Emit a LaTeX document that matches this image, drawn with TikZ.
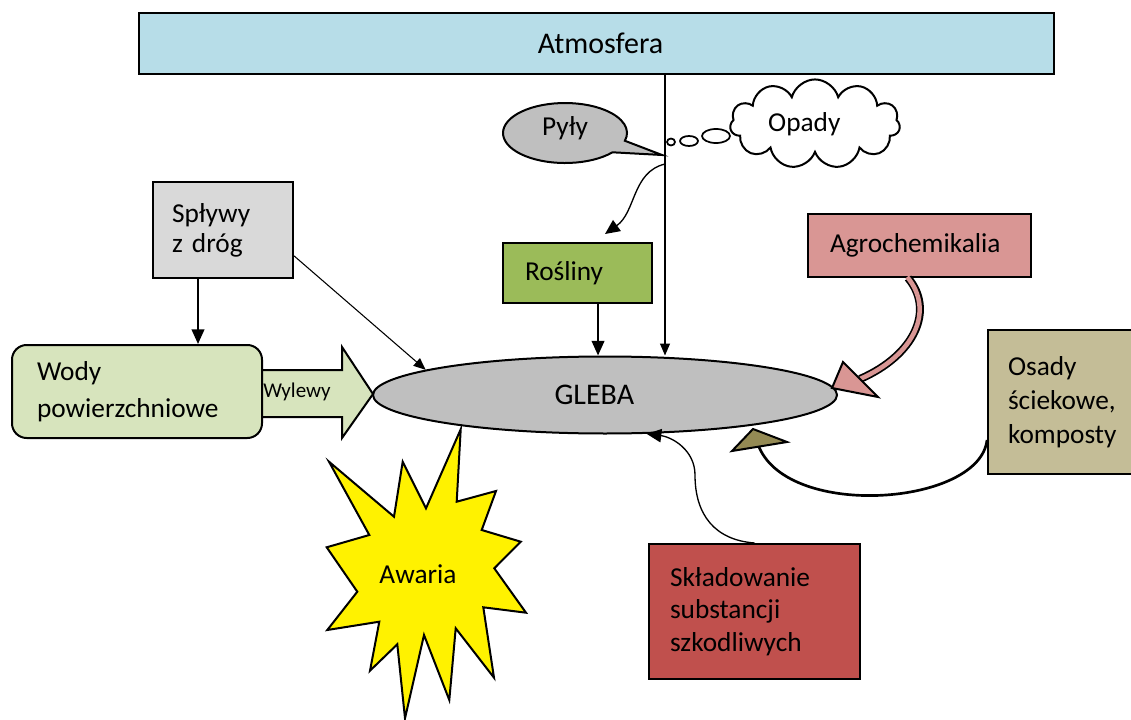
\documentclass[tikz,border=0pt]{standalone}
\usepackage{fontspec}
\setmainfont{Carlito}
\usetikzlibrary{shapes.geometric,shapes.symbols,arrows.meta}
\definecolor{atmblue}{HTML}{B7DDE8}
\definecolor{splgray}{HTML}{D9D9D9}
\definecolor{wodygreen}{HTML}{D7E4BD}
\definecolor{roslgreen}{HTML}{9BBB59}
\definecolor{agropink}{HTML}{D99694}
\definecolor{osadytan}{HTML}{C4BD97}
\definecolor{skladred}{HTML}{C0504D}
\definecolor{soilgray}{HTML}{BFBFBF}
\definecolor{olivehead}{HTML}{948A54}
\begin{document}
\begin{tikzpicture}[x=0.75pt,y=-0.75pt,
  txt/.style={font=\fontsize{20.5}{22.5}\selectfont},
  bigtxt/.style={font=\fontsize{22.5}{24}\selectfont},
  box/.style={draw=black, line width=1.5pt, align=left, inner ysep=0pt, txt},
  lbl/.style={txt, inner sep=0pt},
  thinarrow/.style={line width=0.8pt, -{Triangle[length=9pt,width=7.5pt]}},
  thickarrow/.style={line width=1.5pt, -{Triangle[length=11pt,width=9.5pt]}},
  curvarrow/.style={line width=1pt, -{Triangle[length=11pt,width=10pt]}},
]
\useasboundingbox (0,0) rectangle (1131,720);

% Atmosfera
\node[box, fill=atmblue, minimum width=686.25pt, minimum height=45.75pt, inner sep=0pt, align=center, bigtxt] (atm) at (596.5,43.5) {\hspace*{6pt}Atmosfera};

% GLEBA
\node[ellipse, draw=black, line width=1.5pt, fill=soilgray, minimum width=348pt, minimum height=57.75pt, inner sep=0pt, bigtxt] (gleba) at (605,395) {GLEBA\kern16pt};

% Star
\draw[line width=1.5pt, fill=yellow, line join=miter]
 (460.7,429.3) -- (456.7,501.7) -- (496,491) -- (481.7,530) -- (520.7,541.7) -- (494.3,568.3) -- (526,612.7) -- (483.3,607.3) -- (494,677.7) -- (455.7,628.3) -- (449.3,700) -- (424,635) -- (405,718.3) -- (397.3,644.3) -- (370,670.7) -- (379.3,621.7) -- (327.3,630) -- (357.3,591.7) -- (326.7,547.3) -- (369.3,535) -- (329,461.7) -- (394,516.7) -- (402.7,461.7) -- (426,508.3) -- cycle;
\node[lbl] (awaria) at (418,574) {Awaria};

% Wylewy block arrow
\fill[wodygreen] (262,370) -- (342,370) -- (342,347) -- (373,394) -- (342,438) -- (342,417) -- (262,417) -- cycle;
\draw[line width=1.5pt, line join=miter] (262,370) -- (342,370) -- (342,347) -- (373,394) -- (342,438) -- (342,417) -- (262,417);
\node[font=\fontsize{15.75}{18}\selectfont, inner sep=0pt] (wylewy) at (297,392) {Wylewy};

% boxes
\node[box, fill=splgray, text width=76.5pt, inner xsep=14.25pt, minimum height=72pt] (spl) at (223,230) {Spływy\\z dróg};
\node[box, fill=wodygreen, rounded corners=11pt, text width=150pt, inner xsep=18.75pt, minimum height=69.75pt] (wody) at (137,391.5) {Wody\\[5pt]powierzchniowe};
\node[box, fill=roslgreen, text width=78.75pt, inner xsep=16.5pt, minimum height=45pt] (rosl) at (577.5,273) {Rośliny};
\node[box, fill=agropink, text width=134.25pt, inner xsep=16.5pt, minimum height=47.25pt] (agro) at (919.5,245.5) {Agrochemikalia};
\node[box, fill=osadytan, text width=91.5pt, inner xsep=15pt, minimum height=108pt] (osady) at (1069,402) {Osady\\[3pt]ściekowe,\\[3pt]komposty};
\node[box, fill=skladred, text width=126.75pt, inner xsep=15.75pt, minimum height=101.25pt] (sklad) at (754.5,611.5) {Składowanie\\[2pt]substancji\\[2pt]szkodliwych};

% Pyły speech bubble
\draw[line width=1.5pt, fill=soilgray, line join=miter] (612.5,152.3) arc[start angle=40, end angle=375, x radius=62, y radius=30] -- (662,155) -- cycle;
\node[lbl] (pyly) at (565,128) {Pyły};

% Opady thought cloud
\node[cloud, draw=black, line width=1.5pt, fill=white, cloud puffs=11, aspect=2.1, minimum width=127.5pt, minimum height=63pt, inner sep=0pt, txt] (opady) at (815,124) {Opady\kern16pt};
\draw[line width=1.3pt] (671,142) ellipse [x radius=4, y radius=3.5];
\draw[line width=1.3pt] (689,141) ellipse [x radius=9, y radius=5];
\draw[line width=1.3pt] (716,136) ellipse [x radius=14, y radius=7];

% connectors
\coordinate (drop) at (665,164);
\coordinate (rtip) at (605,234);
\draw[thinarrow] (atm.south -| drop) -- (gleba.north -| drop);
\draw[curvarrow] (drop) .. controls (632,172) and (636,212) .. (rtip);
\draw[thickarrow] ([xshift=15.4pt]rosl.south) -- ([xshift=15.4pt]rosl.south |- gleba.north);
\draw[thickarrow] ([xshift=-18.75pt]spl.south) -- ([xshift=-18.75pt]spl.south |- wody.north);
\draw[thinarrow] (spl.-20) -- (gleba.172);
\draw[curvarrow] (sklad.north) .. controls (715,540) and (695,515) .. (695,475) .. controls (695,450) and (672,437) .. (gleba.-43.5);

% Agrochemikalia curved block arrow
\draw[line width=6pt, line cap=butt] ([xshift=-8.6pt]agro.south) .. controls (935,310) and (915,355) .. (860,379);
\draw[line width=3.4pt, agropink, line cap=butt, shorten <=-1pt] ([xshift=-8.6pt]agro.south) .. controls (935,310) and (915,355) .. (860,379);
\draw[line width=1.5pt, fill=agropink, line join=miter] (843,362) -- (878,397) -- (832,388) -- cycle;

% Osady curved arrow
\draw[line width=2pt] ([yshift=-28.5pt]osady.west) .. controls (980,505) and (790,520) .. (759,447);
\draw[line width=1.5pt, fill=olivehead, line join=miter] (753,429) -- (787,442) -- (732,451) -- cycle;
\end{tikzpicture}
\end{document}
